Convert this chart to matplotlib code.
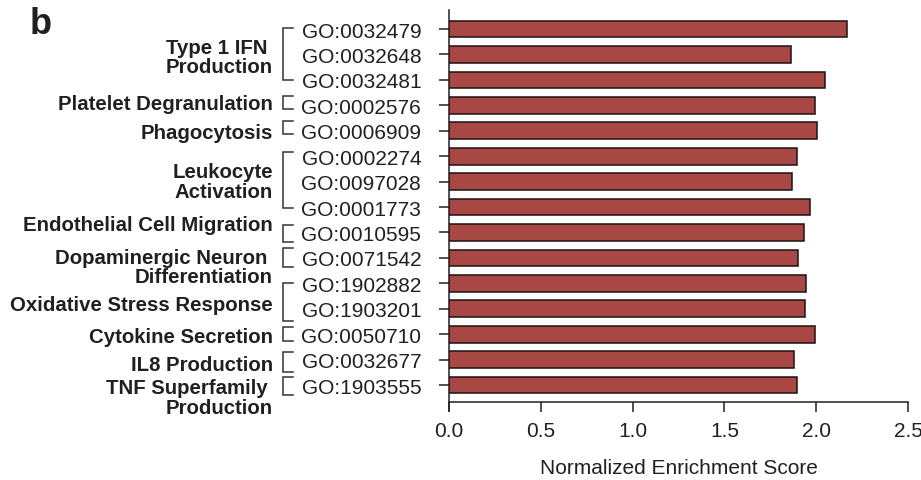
import matplotlib
matplotlib.use("Agg")
import matplotlib.pyplot as plt
import matplotlib.transforms as mtransforms

plt.rcParams['font.family'] = ['Liberation Sans', 'DejaVu Sans']

go_terms = ["GO:0032479", "GO:0032648", "GO:0032481", "GO:0002576", "GO:0006909",
            "GO:0002274", "GO:0097028", "GO:0001773", "GO:0010595", "GO:0071542",
            "GO:1902882", "GO:1903201", "GO:0050710", "GO:0032677", "GO:1903555"]
nes = [2.166, 1.861, 2.046, 1.992, 2.003, 1.897, 1.866, 1.966, 1.935, 1.903,
       1.944, 1.937, 1.992, 1.879, 1.894]

group_names = ["Type 1 IFN \nProduction", "Platelet Degranulation", "Phagocytosis",
               "Leukocyte\nActivation", "Endothelial Cell Migration",
               "Dopaminergic Neuron \nDifferentiation", "Oxidative Stress Response",
               "Cytokine Secretion", "IL8 Production", "TNF Superfamily \nProduction"]
group_first = [0, 3, 4, 5, 8, 9, 10, 12, 13, 14]
group_last = [2, 3, 4, 7, 8, 9, 11, 12, 13, 14]

# layout (bracket pads and label offsets, in row units)
bracket_pad = [(0.05, 0.02), (0.36, 0.15), (0.40, 0.14), (0.15, 0.02), (0.31, 0.38),
               (0.40, 0.35), (0.02, 0.47), (0.30, 0.28), (0.30, 0.50), (0.30, 0.40)]
label_off = [0.10, -0.08, 0.07, -0.01, -0.31, 0.35, 0.34, 0.10, 0.20, 0.49]

txt = '#231f20'
bar_col = '#a94744'

fig = plt.figure(figsize=(9.21, 4.81), dpi=100)
ax = fig.add_axes([449/921, 1-412/481, 459/921, 401/481])

y = list(range(len(go_terms)))
ax.barh(y, nes, height=0.66, color=bar_col, edgecolor='#1a1212', linewidth=1.1, zorder=3)
ax.set_xlim(0, 2.5)
ax.set_ylim(len(go_terms) - 1 + 1.02, -0.75)

for s in ['top', 'right']:
    ax.spines[s].set_visible(False)
ax.spines['left'].set_linewidth(1.1)
ax.spines['bottom'].set_linewidth(1.1)
ax.spines['left'].set_color(txt)
ax.spines['bottom'].set_color(txt)
ax.spines['bottom'].set_position(('data', len(go_terms) - 1 + 0.66))
ax.spines['bottom'].set_bounds(0, 2.5)

ax.set_yticks(y)
ax.set_yticklabels(go_terms, fontsize=15, color=txt)
ax.set_xticks([0, 0.5, 1.0, 1.5, 2.0, 2.5])
ax.set_xticklabels(["0.0", "0.5", "1.0", "1.5", "2.0", "2.5"], fontsize=15, color=txt)
ax.tick_params(axis='y', length=7.5, width=1.1, pad=12.5, color=txt)
ax.tick_params(axis='x', length=7.5, width=1.1, pad=6.5, color=txt)
ax.set_xlabel("Normalized Enrichment Score", fontsize=15, color=txt, labelpad=13)

trans = mtransforms.blended_transform_factory(ax.transAxes, ax.transData)
xv = (283 - 449) / 459
xh = (293 - 449) / 459
xl = (273 - 449) / 459
for name, f, l, (pt, pb), off in zip(group_names, group_first, group_last, bracket_pad, label_off):
    top = f - pt
    bot = l + pb
    ax.plot([xh, xv, xv, xh], [top, top, bot, bot], transform=trans, color='#333333',
            linewidth=1.1, clip_on=False, solid_joinstyle='miter')
    ax.text(xl, (f + l) / 2 + off, name, transform=trans, ha='right', va='center',
            multialignment='right', fontsize=14.7, fontweight='bold', color=txt,
            linespacing=1.03)

fig.text(30/921, 1-34/481, "b", fontsize=26, fontweight='bold', color=txt,
         ha='left', va='baseline')

fig.savefig("out.png", dpi=100)
